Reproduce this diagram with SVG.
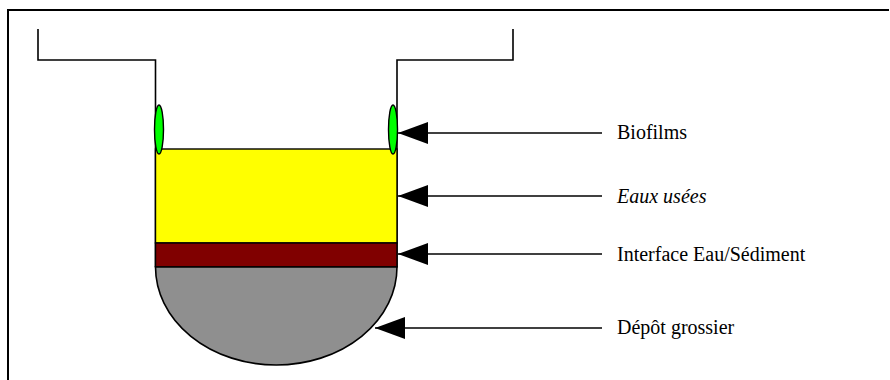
<svg xmlns="http://www.w3.org/2000/svg" width="890" height="380" viewBox="0 0 890 380">
<defs>
<style>
.ln{fill:none;stroke:#000;stroke-width:1.6}
.lab{font-family:"Liberation Serif","Times New Roman",serif;font-size:20px;fill:#000}
.bio{fill:#00ff00;stroke:#000;stroke-width:1.4}
</style>
<marker id="ah" markerUnits="userSpaceOnUse" markerWidth="31" markerHeight="22" refX="30" refY="11" orient="auto">
<path d="M30,11 L0,0 L0,22 Z" fill="#000"/>
</marker>
</defs>
<rect width="890" height="380" fill="#fff"/>
<g id="frame"><path d="M8,380 L8,10 L889,10" fill="none" stroke="#000" stroke-width="2"/></g>
<g id="canal">
<path class="ln" d="M38,29 L38,60 L155.5,60 L155.5,267"/>
<path class="ln" d="M513,29 L513,60 L397,60 L397,267"/>
</g>
<g id="eaux-usees"><rect x="155.5" y="149" width="241.5" height="94" fill="#ffff00" stroke="#000" stroke-width="1.4"/></g>
<g id="interface"><rect x="155.5" y="243" width="241.5" height="24" fill="#800000" stroke="#000" stroke-width="1.4"/></g>
<g id="depot"><path d="M155.5,267 A120.75,98 0 0 0 397,267 Z" fill="#8f8f8f" stroke="#000" stroke-width="1.6"/></g>
<g id="biofilms">
<ellipse class="bio" cx="159" cy="129.5" rx="4.5" ry="24.5"/>
<ellipse class="bio" cx="393" cy="129.5" rx="4.5" ry="24.5"/>
</g>
<g id="connectors">
<line class="ln" x1="602" y1="133" x2="398" y2="133" marker-end="url(#ah)"/>
<line class="ln" x1="602" y1="196" x2="398" y2="196" marker-end="url(#ah)"/>
<line class="ln" x1="602" y1="254" x2="398" y2="254" marker-end="url(#ah)"/>
<line class="ln" x1="602" y1="328" x2="375" y2="328" marker-end="url(#ah)"/>
</g>
<g id="labels">
<text class="lab" x="617" y="139">Biofilms</text>
<text class="lab" x="617" y="203" font-style="italic">Eaux usées</text>
<text class="lab" x="617" y="261">Interface Eau/Sédiment</text>
<text class="lab" x="617" y="334">Dépôt grossier</text>
</g>
</svg>
